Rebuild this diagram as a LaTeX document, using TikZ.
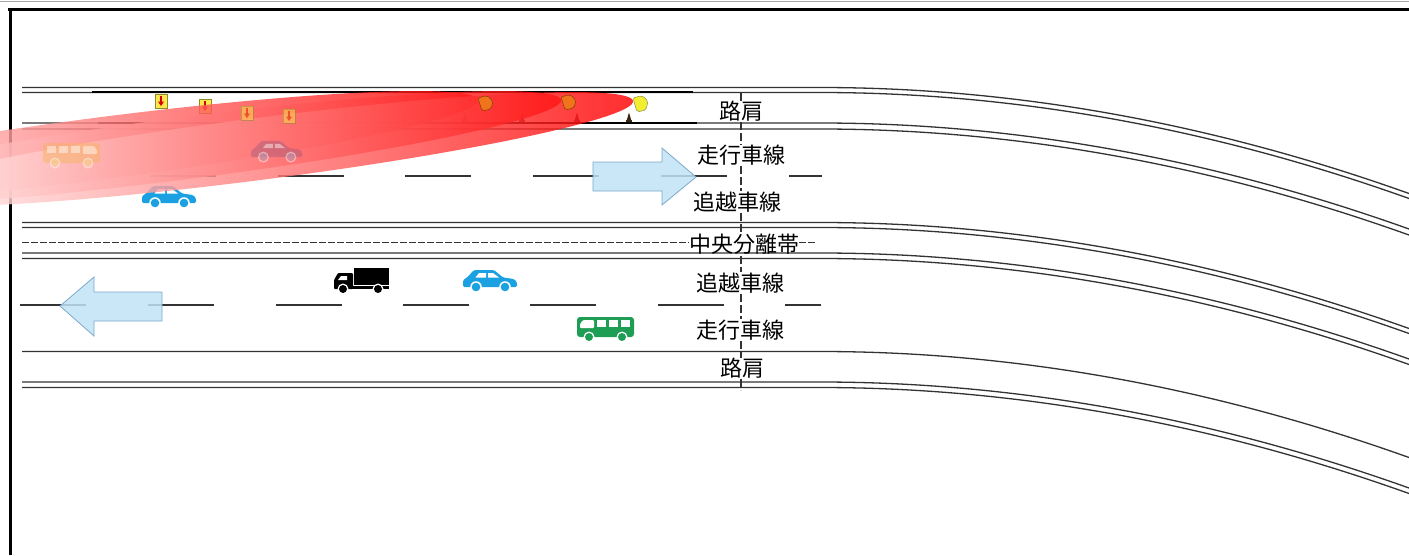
\documentclass[tikz,border=0pt]{standalone}
\usepackage{fontspec}
\newfontfamily\jpfont{Noto Sans CJK JP}

\definecolor{carblue}{HTML}{1BA1E2}
\definecolor{busorange}{HTML}{F5B55A}
\definecolor{carmauve}{HTML}{A2587A}
\definecolor{busgreen}{HTML}{1E9E54}
\definecolor{arrowfill}{HTML}{BFE3F5}
\definecolor{arrowedge}{HTML}{7FA8C8}
\definecolor{roadgray}{HTML}{333333}
\definecolor{conebrown}{HTML}{7A4040}
\definecolor{signyellow}{HTML}{FFE84A}
\definecolor{signedge}{HTML}{8C8A2A}
\definecolor{lamporange}{HTML}{F0741C}
\definecolor{lampyellow}{HTML}{F2EE30}

\tikzset{
  edge/.style={draw=roadgray, line width=1.3pt},
  laneline/.style={draw=roadgray, line width=1.3pt},
  barrier/.style={draw=black, line width=2.4pt},
  lanelabel/.style={font=\jpfont\fontsize{22}{22}\selectfont, inner sep=0pt},
  bigarrow/.style={fill=arrowfill, fill opacity=0.85, draw=arrowedge, line width=0.8pt},
  beam/.style={left color=white, middle color=red!30!white, right color=red, opacity=0.82},
}

% side-view car facing right, 54 x 24
\newcommand{\carshape}[1]{%
  \fill[#1, rounded corners=1.5] (0,18) -- (0,11) -- (4,8.5) -- (11,1) -- (31,1) -- (40,8.5) -- (51,10) -- (54,13) -- (54,18) -- cycle;
  \fill[white] (12.5,8.5) -- (16,4) -- (23,4) -- (23,8.5) -- cycle;
  \fill[white] (25,8.5) -- (25,4) -- (30,4) -- (36,8.5) -- cycle;
  \foreach \wx in {13,42} {\fill[white] (\wx,18) circle (5.8); \fill[#1] (\wx,18) circle (4.3);}
}
% bus facing right, 57 x 25
\newcommand{\busshape}[1]{%
  \fill[#1, rounded corners=3] (0,0) rectangle (57,20);
  \foreach \bx in {4,16,28} {\fill[white] (\bx,3) rectangle (\bx+9,10);}
  \fill[white, rounded corners=1] (40,3) -- (51,3) -- (54,7) -- (54,11) -- (40,11) -- cycle;
  \foreach \wx in {12,45} {\fill[white] (\wx,20) circle (5.5); \fill[#1] (\wx,20) circle (4);}
}
% lorry facing left, 55 x 26
\newcommand{\lorryshape}{%
  \fill (20,0) rectangle (55,16.5);
  \fill (18,17.5) rectangle (55,21);
  \fill[rounded corners=1] (0,21) -- (0,12) -- (4,5) -- (19,5) -- (19,21) -- cycle;
  \fill[white] (4,12) -- (7,8) -- (13,8) -- (13,12) -- cycle;
  \foreach \wx in {9,44} {\fill[white] (\wx,21) circle (5.5); \fill (\wx,21) circle (4);}
}
% yellow warning board with a red down arrow
\newcommand{\board}[2]{%
  \fill[signyellow, draw=signedge, line width=0.8pt] (#1-6,#2-7) rectangle (#1+6,#2+7);
  \fill[red!85!black] (#1-0.9,#2-5) rectangle (#1+0.9,#2+1);
  \fill[red!85!black] (#1-3,#2+0.5) -- (#1+3,#2+0.5) -- (#1,#2+5) -- cycle;
}
% small cone on the shoulder line
\newcommand{\cone}[2]{%
  \fill[#2] (#1-2.5,121) -- (#1+2.5,121) -- (#1,112.5) -- cycle;
  \fill[#2] (#1-3.2,119.5) rectangle (#1+3.2,121.5);
}

\begin{document}
\begin{tikzpicture}[x=1pt, y=-1pt]
\useasboundingbox (0,0) rectangle (1409,555);

% frame
\draw[gray!70, line width=1.5pt] (0,1.5) -- (1409,1.5);
\draw[black, line width=2.5pt] (8,9.5) -- (1409,9.5);
\draw[black, line width=2.5pt] (10.5,9.5) -- (10.5,555);

% road edges: straight, then bending away to the lower right
\foreach \ey in {87.5,92.5,123,129,222.5,227.5,253,258.5,351.5,382,387.5} {
  \draw[edge] (22,\ey) -- (820,\ey) .. controls (1016,\ey) and (1213,\ey+36) .. (1409,\ey+106);
}

% shoulder barriers
\draw[barrier] (92,92) -- (693,92);
\draw[barrier] (98,123) -- (697,123);

% lane dividers
\foreach \lx in {23,150,278,405,533,661} {\draw[laneline] (\lx,176) -- (\lx+66,176);}
\draw[laneline] (789,176) -- (822,176);
\foreach \lx in {20,148,276,403,530,658} {\draw[laneline] (\lx,305) -- (\lx+66,305);}
\draw[laneline] (785,305) -- (821,305);

% median dashed line
\draw[draw=roadgray, line width=1pt, dash pattern=on 7pt off 2pt] (22,242) -- (689,242);
\draw[draw=roadgray, line width=1pt, dash pattern=on 7pt off 2pt] (799,242) -- (815,242);

% reference section line
\foreach \ya/\yb in {93/101,122/145,166/191,213/234,256/272,294/319,341/358,379/390} {
  \draw[black!80, line width=1.5pt, dash pattern=on 8pt off 3pt] (741,\ya) -- (741,\yb);
}

% vehicles in the clear lanes
\begin{scope}[shift={(142,185)}] \carshape{carblue} \end{scope}
\begin{scope}[shift={(334,268)}] \lorryshape \end{scope}
\begin{scope}[shift={(463,269)}] \carshape{carblue} \end{scope}
\begin{scope}[shift={(634,317)}, xscale=-1] \busshape{busgreen} \end{scope}

% warning boards and cones in the closed shoulder
\board{161}{101}
\board{205}{106}
\foreach \cx in {347,404,465,522,577} {\cone{\cx}{conebrown}}
\cone{629}{black!70!brown}

% light beams of the warning lamps
\begin{scope}
  \clip (0,0) rectangle (1409,555);
  \shade[beam, rotate around={7.3:(101.1,148.3)}] (101.1,148.3) ellipse [x radius=380, y radius=31];
  \shade[beam, rotate around={7.3:(184.1,148.3)}] (184.1,148.3) ellipse [x radius=380, y radius=31];
  \shade[beam, rotate around={7.3:(256.1,149.3)}] (256.1,149.3) ellipse [x radius=380, y radius=31];
\end{scope}

% vehicles and boards seen through the beams
\begin{scope}[opacity=0.45]
  \begin{scope}[shift={(43,143)}] \busshape{busorange} \end{scope}
  \begin{scope}[shift={(251,140)}, scale=0.95] \carshape{carmauve} \end{scope}
\end{scope}
\begin{scope}[opacity=0.5]
  \board{247}{113}
  \board{289}{116}
\end{scope}

% warning lamps
\fill[lamporange, draw=orange!50!black, line width=0.5pt, rounded corners=2] (478,98) -- (487,95.5) -- (493,101) -- (491,109) -- (482,111) -- cycle;
\fill[lamporange, draw=orange!50!black, line width=0.5pt, rounded corners=2] (561,97) -- (570,94.5) -- (576,100) -- (574,108) -- (565,110) -- cycle;
\fill[lampyellow, draw=yellow!50!black, line width=0.5pt, rounded corners=2] (633,98) -- (642,95.5) -- (648,101) -- (646,110) -- (637,112) -- cycle;

% direction arrows
\draw[bigarrow] (593,162) -- (662,162) -- (662,148) -- (696,177) -- (662,205) -- (662,191) -- (593,191) -- cycle;
\draw[bigarrow] (60,306) -- (94,277) -- (94,292) -- (162,292) -- (162,321) -- (94,321) -- (94,336) -- cycle;

% lane names
\node[lanelabel] (shoulderN) at (741,111) {路肩};
\node[lanelabel] (mainN)     at (741,155) {走行車線};
\node[lanelabel] (passN)     at (737,202) {追越車線};
\node[lanelabel] (median)    at (744,244) {中央分離帯};
\node[lanelabel] (passS)     at (740,283) {追越車線};
\node[lanelabel] (mainS)     at (740,330) {走行車線};
\node[lanelabel] (shoulderS) at (742,368) {路肩};
\end{tikzpicture}
\end{document}
